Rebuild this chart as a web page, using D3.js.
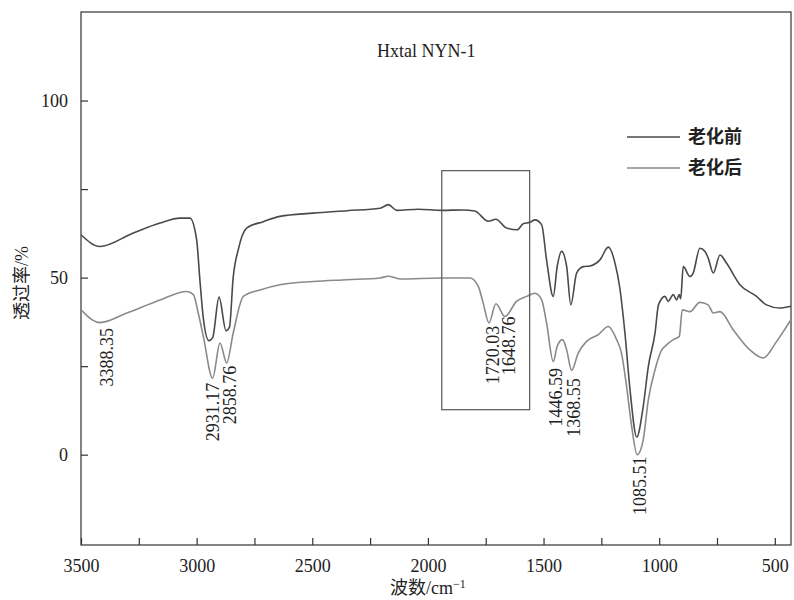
<!DOCTYPE html>
<html>
<head>
<meta charset="utf-8">
<script src="https://cdn.jsdelivr.net/npm/d3@7"></script>
<style>
  body { margin: 0; background: #fff; }
  text { font-family: "Liberation Serif", "Noto Sans CJK SC", serif; fill: #222; }
</style>
</head>
<body>
<div id="chart"></div>
<script>
// spectra: [wavenumber cm-1, transmittance %]
const beforeAging = [
  [3500, 62.1], [3418, 58.8], [3274, 62.6], [3158, 65.4], [3072, 66.8], [3029, 66.8],
  [3000, 60.7], [2986, 49.4], [2971, 38.5], [2947, 32.2], [2931, 33.0], [2903, 44.5],
  [2873, 35.0], [2858, 36.0], [2842, 50.0], [2820, 57.9], [2784, 64.0], [2712, 65.8],
  [2640, 67.3], [2496, 68.2], [2350, 68.9], [2207, 69.6], [2171, 70.6], [2135, 69.0],
  [2042, 69.3], [1940, 69.0], [1850, 69.1], [1797, 68.8], [1739, 65.9], [1706, 66.5],
  [1660, 64.0], [1614, 63.5], [1588, 65.2], [1559, 65.6], [1537, 66.3], [1508, 64.9],
  [1487, 55.0], [1458, 44.7], [1441, 53.1], [1422, 57.4], [1400, 53.1], [1382, 42.3],
  [1357, 51.3], [1328, 53.1], [1299, 53.3], [1256, 55.0], [1220, 58.6], [1191, 54.1],
  [1170, 47.0], [1148, 34.3], [1126, 18.3], [1097, 5.0], [1069, 13.6], [1047, 24.9],
  [1018, 34.3], [1003, 42.3], [975, 44.7], [961, 43.3], [939, 45.2], [925, 43.7],
  [913, 45.2], [907, 44.0], [896, 53.1], [867, 50.3], [853, 51.3], [824, 58.3],
  [802, 57.4], [788, 55.5], [766, 51.3], [737, 56.4], [709, 54.1], [651, 48.0],
  [579, 44.7], [536, 42.3], [478, 41.4], [430, 41.9]
];

const afterAging = [
  [3500, 40.9], [3418, 37.3], [3302, 40.0], [3158, 43.7], [3043, 46.1], [3014, 45.2],
  [2993, 40.0], [2971, 33.4], [2931, 21.6], [2899, 31.5], [2870, 25.9], [2842, 34.3],
  [2798, 44.7], [2726, 46.5], [2640, 48.0], [2496, 48.9], [2350, 49.4], [2207, 49.9],
  [2171, 50.4], [2121, 49.6], [1940, 49.9], [1818, 49.9], [1782, 47.5], [1761, 42.8],
  [1736, 37.2], [1706, 42.6], [1667, 39.0], [1617, 43.3], [1573, 44.7], [1537, 45.6],
  [1508, 43.7], [1487, 37.2], [1458, 26.3], [1441, 30.6], [1418, 32.5], [1400, 29.6],
  [1379, 23.8], [1350, 28.7], [1314, 32.0], [1263, 33.9], [1220, 36.2], [1184, 32.5],
  [1163, 28.7], [1141, 19.3], [1119, 8.0], [1095, 0.0], [1069, 4.2], [1047, 15.5],
  [1018, 24.0], [989, 29.6], [975, 30.6], [939, 32.5], [913, 33.4], [900, 40.9],
  [867, 40.4], [824, 43.0], [788, 42.3], [766, 40.0], [737, 40.4], [680, 35.3],
  [608, 29.6], [550, 27.3], [492, 32.0], [449, 36.2], [430, 38.1]
];

// peak annotations: label, wavenumber, transmittance at top of the label
const peakLabels = ["3388.35", "2931.17", "2858.76", "1720.03", "1648.76", "1446.59", "1368.55", "1085.51"];
const peakWn = [3388.35, 2931.17, 2858.76, 1720.03, 1648.76, 1446.59, 1368.55, 1085.51];
const peakTop = [35.8, 20.3, 25.1, 36.4, 39.0, 24.5, 21.6, -0.5];

const seriesNames = ["老化前", "老化后"];
const seriesColors = ["#4a4a4a", "#8a8a8a"];

const xTicks = d3.range(3500, 499, -250);
const yTicks = [0, 25, 50, 75, 100];

// highlighted box (wavenumber range and transmittance range)
const boxWn = [1940, 1560];
const boxT = [80.2, 12.7];

const margin = {top: 12, right: 3, bottom: 55, left: 81};
const W = 794, H = 600;
const width = W - margin.left - margin.right;
const height = H - margin.top - margin.bottom;

const x = d3.scaleLinear().domain([3500, 430]).range([0, width]);
const y = d3.scaleLinear().domain([-25.5, 125]).range([height, 0]);

const svg = d3.select("#chart").append("svg")
  .attr("width", W)
  .attr("height", H)
  .append("g")
  .attr("transform", `translate(${margin.left},${margin.top})`);

svg.append("defs").append("clipPath")
  .attr("id", "clip")
  .append("rect")
  .attr("width", width)
  .attr("height", height);

// axes, ticks pointing inward
const xAxis = svg.append("g")
  .attr("transform", `translate(0,${height})`)
  .call(d3.axisBottom(x)
    .tickValues(xTicks)
    .tickSize(-7)
    .tickPadding(14)
    .tickFormat(d => d % 500 === 0 ? d : ""));

const yAxis = svg.append("g")
  .call(d3.axisLeft(y)
    .tickValues(yTicks)
    .tickSize(-7)
    .tickPadding(13)
    .tickFormat(d => d % 50 === 0 ? d : ""));

[xAxis, yAxis].forEach(a => {
  a.select(".domain").remove();
  a.selectAll(".tick line").attr("stroke", "#333").attr("stroke-width", 1.2);
  a.selectAll(".tick text")
    .style("font-family", "'Liberation Serif', serif")
    .style("font-size", "18px")
    .attr("fill", "#222");
});

// frame
svg.append("rect")
  .attr("width", width)
  .attr("height", height)
  .attr("fill", "none")
  .attr("stroke", "#333")
  .attr("stroke-width", 1.2);

const line = d3.line()
  .x(d => x(d[0]))
  .y(d => y(d[1]))
  .curve(d3.curveMonotoneX);

[beforeAging, afterAging].forEach((s, i) => {
  svg.append("path")
    .datum(s)
    .attr("clip-path", "url(#clip)")
    .attr("fill", "none")
    .attr("stroke", seriesColors[i])
    .attr("stroke-width", 1.6)
    .attr("d", line);
});

// box
svg.append("rect")
  .attr("x", x(boxWn[0]))
  .attr("y", y(boxT[0]))
  .attr("width", x(boxWn[1]) - x(boxWn[0]))
  .attr("height", y(boxT[1]) - y(boxT[0]))
  .attr("fill", "none")
  .attr("stroke", "#555")
  .attr("stroke-width", 1.2);

// peak labels, vertical
svg.selectAll(".peak")
  .data(peakLabels)
  .join("text")
  .attr("class", "peak")
  .attr("transform", (d, i) => `translate(${x(peakWn[i])},${y(peakTop[i])}) rotate(-90)`)
  .attr("text-anchor", "end")
  .attr("dy", "0.35em")
  .style("font-size", "18px")
  .text(d => d);

// title
svg.append("text")
  .attr("x", 296)
  .attr("y", 45)
  .style("font-size", "18px")
  .text("Hxtal NYN-1");

// legend
const legend = svg.append("g").attr("transform", "translate(546,125)");
seriesNames.forEach((name, i) => {
  const g = legend.append("g").attr("transform", `translate(0,${i * 31})`);
  g.append("line")
    .attr("x1", 0).attr("x2", 53)
    .attr("stroke", seriesColors[i])
    .attr("stroke-width", 1.6);
  g.append("text")
    .attr("x", 61)
    .attr("dy", "0.35em")
    .style("font-family", "'Noto Sans CJK SC', sans-serif")
    .style("font-size", "18px")
    .style("font-weight", "bold")
    .text(name);
});

// axis titles
svg.append("text")
  .attr("transform", `translate(${-59},${271}) rotate(-90)`)
  .attr("text-anchor", "middle")
  .attr("dy", "0.35em")
  .style("font-size", "18px")
  .text("透过率/%");

const xt = svg.append("text")
  .attr("x", x(2000))
  .attr("y", height + 49)
  .attr("text-anchor", "middle")
  .style("font-size", "18px");
xt.append("tspan").text("波数/cm");
xt.append("tspan").attr("dy", -6).style("font-size", "12px").text("−1");
</script>
</body>
</html>
